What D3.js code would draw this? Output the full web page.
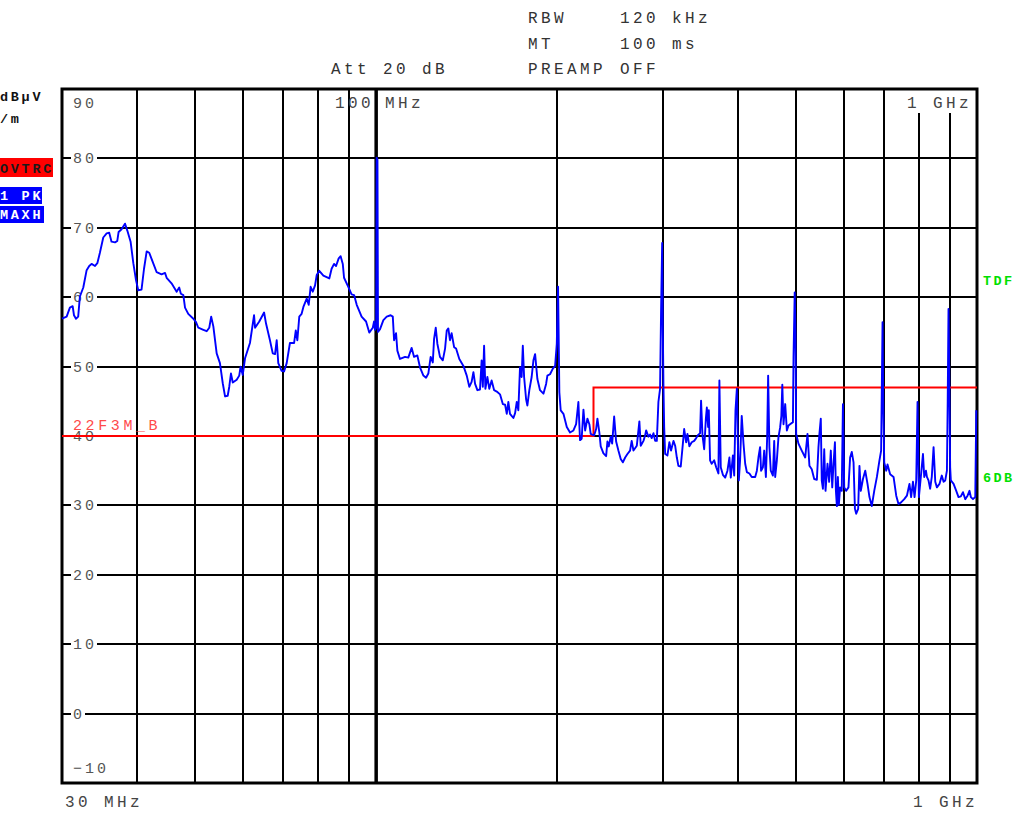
<!DOCTYPE html>
<html>
<head>
<meta charset="utf-8">
<script src="https://cdn.jsdelivr.net/npm/d3@7"></script>
<style>
  body { margin: 0; background: #fff; }
  svg text { font-family: "Liberation Mono", "DejaVu Sans Mono", monospace; }
</style>
</head>
<body>
<div id="chart"></div>
<script>
// trace: frequency in MHz, level in dBuV/m
const freqMHz = [
  30.00, 30.54, 30.92, 31.25, 31.41, 31.65, 31.92, 32.13, 32.55, 32.97, 33.30, 33.60, 34.05, 34.35, 34.69,
  35.14, 35.60, 35.95, 36.27, 36.76, 37.08, 37.27, 37.69, 38.19, 38.53, 39.02, 39.43, 39.83, 40.18, 40.69,
  41.08, 41.50, 41.91, 42.47, 43.12, 43.94, 44.52, 44.80, 45.65, 46.55, 47.01, 47.31, 47.76, 48.07, 48.67,
  49.63, 50.14, 50.58, 51.57, 52.23, 52.75, 53.14, 53.58, 54.27, 54.95, 55.55, 56.04, 56.61, 56.95, 57.32,
  57.72, 58.60, 59.17, 59.48, 59.97, 60.50, 61.65, 62.63, 62.87, 63.89, 65.08, 65.57, 66.56, 67.28, 67.87,
  68.31, 68.72, 69.60, 70.26, 70.97, 71.86, 73.01, 73.48, 73.93, 74.48, 75.15, 75.66, 76.63, 77.22, 77.79,
  78.43, 79.12, 79.63, 80.41, 81.69, 83.56, 84.30, 85.10, 85.75, 86.62, 87.27, 87.99, 88.42, 89.87, 91.01,
  91.88, 92.82, 94.57, 96.20, 97.39, 98.71, 99.20, 99.57, 100.0, 100.2, 100.5, 100.7, 101.5, 102.8, 104.13,
  105.70, 106.58, 107.11, 107.92, 108.46, 109.55, 111.71, 113.11, 114.55, 115.64, 117.10, 118.28, 119.84, 121.07, 122.13,
  123.22, 124.23, 124.85, 125.66, 126.43, 127.70, 129.09, 130.22, 131.06, 131.86, 132.69, 133.53, 134.81, 135.83, 137.53,
  139.70, 141.50, 142.89, 144.17, 145.16, 146.10, 147.39, 148.87, 149.81, 150.49, 151.23, 151.98, 153.14, 154.28, 155.66,
  157.15, 158.76, 160.74, 162.48, 163.91, 164.96, 165.96, 167.01, 168.07, 169.21, 170.31, 171.40, 172.44, 173.54, 174.63,
  175.42, 176.29, 177.64, 178.52, 179.85, 181.46, 182.70, 183.88, 185.50, 187.37, 189.84, 191.80, 192.75, 194.70, 196.81,
  198.54, 199.81, 200.79, 201.78, 202.83, 204.97, 207.62, 210.21, 212.98, 215.17, 217.05, 218.43, 219.80, 221.30, 222.74,
  224.69, 226.37, 227.55, 228.81, 230.57, 232.32, 233.48, 235.22, 236.45, 238.94, 241.40, 242.60, 243.86, 245.69, 247.04,
  248.94, 250.83, 253.02, 255.29, 257.39, 259.66, 261.94, 264.58, 266.25, 268.06, 271.53, 274.20, 275.64, 278.54, 280.34,
  281.41, 283.86, 285.66, 287.46, 289.42, 291.30, 293.16, 294.95, 296.82, 297.94, 299.24, 300.04, 300.74, 301.54, 302.69,
  305.34, 307.62, 309.59, 312.48, 314.51, 316.53, 318.45, 321.31, 323.95, 325.56, 328.04, 329.67, 332.13, 335.10, 338.29,
  340.87, 343.83, 346.02, 347.33, 349.23, 351.51, 353.78, 355.11, 356.85, 357.80, 359.54, 361.81, 365.24, 368.03, 371.23,
  372.61, 374.57, 377.65, 380.97, 384.31, 387.18, 389.21, 392.41, 394.36, 396.32, 398.39, 399.96, 401.41, 403.36, 405.91,
  408.67, 411.32, 413.96, 418.03, 421.77, 427.40, 430.14, 432.76, 435.50, 437.15, 440.23, 442.41, 445.27, 447.47, 449.14,
  451.33, 453.70, 457.43, 459.70, 461.46, 464.41, 467.24, 470.21, 472.49, 474.2, 476.4, 479.49, 482.56, 485.50, 488.58,
  493.89, 495.02, 497.29, 498.8, 500.13, 504.48, 510.88, 517.71, 522.25, 526.14, 530.85, 535.89, 541.38, 544.68, 546.70,
  549.57, 551.59, 554.09, 556.84, 559.62, 563.87, 567.47, 571.06, 574.19, 577.06, 580.16, 582.34, 584.53, 586.76, 588.95,
  591.82, 595.55, 598.24, 601.21, 605.79, 611.07, 614.95, 618.83, 623.05, 626.40, 629.47, 634.21, 637.31, 640.66, 645.92,
  651.60, 657.32, 662.22, 668.14, 674.49, 681.40, 688.09, 692.51, 696.3, 698.2, 700.85, 706.19, 709.70, 716.86, 726.30,
  733.79, 740.18, 746.83, 756.70, 764.45, 771.96, 776.91, 782.39, 787.15, 792.26, 796.20, 800.33, 806.34, 812.96, 817.00,
  822.28, 825.36, 830.39, 835.66, 840.93, 846.67, 852.17, 857.62, 866.05, 873.80, 879.76, 885.46, 891.14, 893.85, 896.56,
  898.93, 902.25, 904.61, 914.14, 923.56, 931.60, 939.97, 947.69, 956.03, 964.42, 971.60, 976.71, 984.73, 993.39, 997.2
];
const levelDb = [
  56.9, 57.2, 58.5, 58.7, 57.4, 56.9, 57.2, 60.1, 61.4, 63.9, 64.5, 64.8, 64.5, 64.9, 66.4,
  68.6, 69.2, 69.3, 68.0, 67.9, 68.1, 69.4, 69.8, 70.6, 69.6, 68.0, 64.9, 62.5, 61.0, 61.1,
  64.1, 66.6, 66.4, 65.1, 63.6, 63.3, 63.5, 62.8, 62.0, 60.8, 61.4, 60.5, 60.3, 58.5, 57.6,
  56.9, 56.4, 55.6, 55.3, 55.1, 55.6, 57.2, 55.8, 51.9, 50.5, 47.6, 45.7, 45.8, 47.1, 49.0,
  47.7, 48.1, 48.7, 50.0, 48.8, 51.2, 53.4, 57.4, 55.6, 56.5, 57.8, 56.2, 53.8, 51.9, 51.8,
  53.8, 50.5, 49.4, 49.3, 50.5, 53.4, 53.4, 55.2, 53.8, 57.2, 57.6, 58.6, 59.8, 58.9, 61.5,
  60.8, 61.7, 63.2, 63.8, 63.1, 62.7, 64.1, 64.8, 64.5, 65.6, 65.9, 64.8, 62.8, 61.5, 60.4,
  60.3, 58.9, 57.2, 56.5, 54.9, 55.6, 56.5, 55.3, 55.6, 80.1, 79.8, 55.0, 55.4, 56.7, 57.2,
  57.4, 57.2, 53.8, 54.8, 52.3, 51.1, 51.4, 51.3, 52.7, 51.4, 51.6, 49.9, 48.7, 48.4, 49.0,
  51.4, 50.6, 54.0, 55.6, 53.3, 51.4, 50.9, 52.6, 55.2, 55.5, 53.8, 54.8, 52.8, 52.6, 51.1,
  50.1, 48.7, 47.1, 47.8, 49.2, 47.5, 46.6, 46.7, 50.9, 47.1, 53.0, 46.8, 48.5, 46.8, 48.0,
  46.6, 46.4, 46.0, 44.6, 44.5, 43.2, 44.9, 43.2, 42.9, 42.6, 43.3, 44.9, 43.7, 49.9, 48.5,
  53.0, 48.5, 45.3, 44.4, 46.6, 48.5, 50.9, 51.8, 48.2, 46.6, 46.1, 47.5, 48.7, 48.9, 49.7,
  50.1, 53.3, 61.5, 46.3, 43.7, 43.2, 41.3, 40.5, 40.8, 41.7, 44.9, 39.4, 39.6, 43.8, 40.8,
  42.5, 41.7, 40.3, 40.2, 40.1, 41.0, 42.5, 40.5, 38.5, 37.5, 37.1, 39.2, 38.5, 39.9, 38.9,
  42.8, 39.2, 37.9, 36.7, 36.2, 36.9, 37.4, 37.9, 39.3, 37.9, 38.6, 42.1, 38.6, 39.3, 40.1,
  40.8, 39.9, 40.2, 39.7, 40.4, 39.3, 39.3, 44.9, 46.8, 57.6, 67.8, 54.8, 47.0, 41.3, 37.4,
  37.2, 39.1, 37.9, 39.3, 38.6, 36.9, 35.7, 35.6, 38.9, 41.0, 39.1, 40.3, 38.5, 39.1, 39.3,
  39.7, 40.2, 40.4, 45.1, 40.1, 38.1, 42.5, 44.1, 41.3, 43.7, 36.5, 36.0, 36.5, 35.5, 34.6,
  48.0, 35.5, 34.4, 34.0, 35.0, 36.9, 34.0, 37.2, 34.3, 43.7, 46.8, 38.9, 33.6, 36.5, 42.9,
  38.9, 36.0, 34.8, 34.6, 34.1, 34.1, 35.0, 36.9, 38.4, 35.0, 35.5, 37.9, 34.1, 39.8, 48.7,
  38.4, 35.0, 34.3, 39.3, 34.1, 36.5, 39.8, 41.2, 42.9, 47.4, 41.7, 44.6, 40.8, 41.5, 41.7,
  42.0, 51.3, 60.7, 55.0, 40.3, 38.9, 37.9, 36.9, 40.3, 35.7, 35.2, 33.8, 33.7, 38.4, 40.3,
  42.5, 33.6, 32.4, 38.1, 32.1, 36.0, 33.4, 37.9, 32.6, 36.0, 39.1, 32.1, 29.9, 34.1, 30.1,
  32.6, 32.1, 44.6, 32.6, 32.1, 32.6, 36.9, 37.7, 36.2, 29.5, 28.8, 29.5, 35.7, 32.1, 33.8,
  35.0, 33.1, 31.2, 29.9, 32.1, 34.1, 36.5, 37.9, 56.4, 45.0, 36.2, 35.0, 35.9, 34.5, 34.1,
  31.4, 30.2, 30.4, 30.9, 31.4, 33.1, 31.2, 33.4, 31.2, 33.6, 44.9, 31.2, 34.1, 37.4, 34.1,
  35.0, 34.1, 33.6, 32.4, 34.1, 38.4, 33.4, 32.6, 33.1, 34.3, 33.4, 33.6, 35.0, 45.0, 58.3,
  50.0, 35.5, 33.6, 33.1, 32.1, 31.2, 31.3, 31.9, 30.9, 31.4, 32.1, 31.2, 30.9, 31.2, 43.7
];

const limitFreq = [30, 230, 230, 1000];
const limitDb = [40, 40, 47, 47];

const yTicks = [-10, 0, 10, 20, 30, 40, 50, 60, 70, 80, 90];
const xGrid = [40, 50, 60, 70, 80, 90, 100, 200, 300, 400, 500, 600, 700, 800, 900];

const headerRows = [
  ["RBW", "120 kHz"],
  ["MT", "100 ms"],
  ["PREAMP", "OFF"],
];
const attText = "Att 20 dB";
const unitLines = ["dBµV", "/m"];
const traceBadges = [
  { text: "OVTRC", bg: "#ff0000", fg: "#1a1a1a" },
  { text: "1 PK", bg: "#0000ff", fg: "#ffffff" },
  { text: "MAXH", bg: "#0000ff", fg: "#ffffff" },
];
const limitName = "22F3M_B";

function drawChart() {
  const W = 1024, H = 830;
  const plot = { left: 62, right: 977, top: 89, bottom: 783 };

  const x = d3.scaleLog().domain([30, 1000]).range([plot.left, plot.right]);
  const y = d3.scaleLinear().domain([-10, 90]).range([plot.bottom, plot.top]);

  const svg = d3.select("#chart").append("svg").attr("width", W).attr("height", H);
  svg.append("rect").attr("width", W).attr("height", H).attr("fill", "#fff");

  // grid
  const grid = svg.append("g").attr("stroke", "#000").attr("stroke-width", 2);
  grid.selectAll(".hg")
    .data(yTicks.filter((v) => v > -10 && v < 90))
    .join("line")
    .attr("x1", plot.left).attr("x2", plot.right)
    .attr("y1", (d) => Math.round(y(d))).attr("y2", (d) => Math.round(y(d)));
  grid.selectAll(".vg")
    .data(xGrid.filter((f) => f !== 100))
    .join("line")
    .attr("x1", (d) => Math.round(x(d))).attr("x2", (d) => Math.round(x(d)))
    .attr("y1", plot.top).attr("y2", plot.bottom);

  // y tick labels sit inside the frame on a white patch
  const ylab = svg.append("g");
  yTicks.forEach((v) => {
    let base = y(v) + 5;
    if (v === 90) base = y(v) + 19;
    if (v === -10) base = y(v) - 10;
    const txt = String(v).replace("-", "\u2212");
    ylab.append("rect")
      .attr("x", 71).attr("y", base - 12)
      .attr("width", txt.length * 12 + 2).attr("height", 14)
      .attr("fill", "#fff");
    ylab.append("text")
      .attr("x", 73).attr("y", base)
      .attr("font-size", 15).attr("letter-spacing", 3)
      .attr("fill", "#555")
      .text(txt);
  });

  // frequency labels
  const fl = svg.append("g").attr("font-size", 16).attr("letter-spacing", 3.4).attr("fill", "#444");
  fl.append("rect").attr("x", 903).attr("y", plot.top + 1).attr("width", 72).attr("height", 23).attr("fill", "#fff");
  fl.append("text").attr("x", 907).attr("y", 108).text("1 GHz");
  fl.append("text").attr("x", 335).attr("y", 108).text("100");
  fl.append("text").attr("x", 385).attr("y", 108).text("MHz");
  fl.append("text").attr("x", 65).attr("y", 807).text("30 MHz");
  fl.append("text").attr("x", 913).attr("y", 807).text("1 GHz");

  // 100 MHz line is drawn heavier
  svg.append("line")
    .attr("x1", x(100)).attr("x2", x(100))
    .attr("y1", plot.top).attr("y2", plot.bottom)
    .attr("stroke", "#000").attr("stroke-width", 3.5);

  // frame
  svg.append("rect")
    .attr("x", plot.left).attr("y", plot.top)
    .attr("width", plot.right - plot.left).attr("height", plot.bottom - plot.top)
    .attr("fill", "none").attr("stroke", "#000").attr("stroke-width", 3);

  // limit line
  const limitLine = d3.line().x((d) => x(d[0])).y((d) => y(d[1]));
  svg.append("path")
    .attr("d", limitLine(limitFreq.map((f, i) => [f, limitDb[i]])))
    .attr("fill", "none").attr("stroke", "#ff0000").attr("stroke-width", 2);
  svg.append("text")
    .attr("x", 73).attr("y", y(40) - 6)
    .attr("font-size", 15).attr("letter-spacing", 3.6)
    .attr("fill", "#ff4a4a")
    .text(limitName);

  // trace
  const trace = d3.line().x((d) => x(d[0])).y((d) => y(d[1]));
  svg.append("path")
    .attr("d", trace(freqMHz.map((f, i) => [f, levelDb[i]])))
    .attr("fill", "none").attr("stroke", "#0000ff").attr("stroke-width", 1.9)
    .attr("stroke-linejoin", "round");

  // header
  const hdr = svg.append("g").attr("font-size", 16).attr("letter-spacing", 3.4).attr("fill", "#333");
  headerRows.forEach((row, i) => {
    const base = 23 + i * 25.5;
    hdr.append("text").attr("x", 528).attr("y", base).text(row[0]);
    hdr.append("text").attr("x", 620).attr("y", base).text(row[1]);
  });
  hdr.append("text").attr("x", 331).attr("y", 74).text(attText);

  // unit and trace info on the left
  const left = svg.append("g").attr("font-size", 13.5).attr("font-weight", "bold").attr("letter-spacing", 2.7);
  unitLines.forEach((t, i) => {
    left.append("text").attr("x", 0).attr("y", 101 + i * 22).attr("fill", "#111").text(t);
  });
  const badgeBoxes = [
    { y: 158, w: 53, h: 19 },
    { y: 187, w: 42, h: 17 },
    { y: 206, w: 44, h: 17 },
  ];
  traceBadges.forEach((b, i) => {
    const box = badgeBoxes[i];
    left.append("rect").attr("x", 0).attr("y", box.y).attr("width", box.w).attr("height", box.h).attr("fill", b.bg);
    left.append("text").attr("x", 0).attr("y", box.y + box.h - 4).attr("fill", b.fg).text(b.text);
  });

  // right side markers
  const right = svg.append("g").attr("font-size", 13.5).attr("font-weight", "bold")
    .attr("letter-spacing", 2.4).attr("fill", "#00e000");
  right.append("text").attr("x", 983).attr("y", 285).text("TDF");
  right.append("text").attr("x", 983).attr("y", 482).text("6DB");
}

drawChart();
</script>
</body>
</html>
